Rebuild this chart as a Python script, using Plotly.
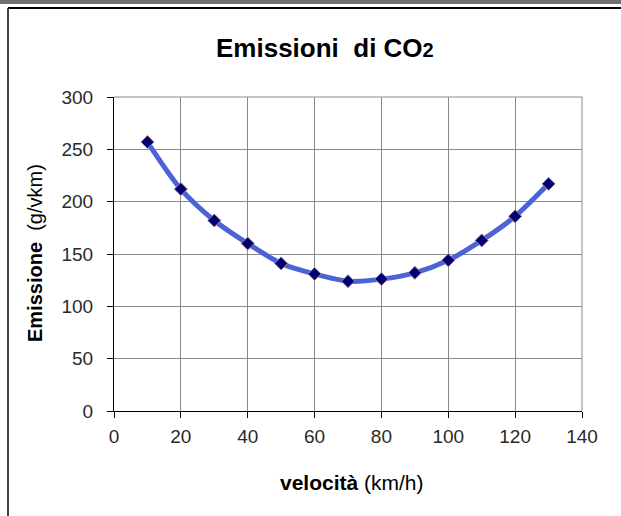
import plotly.graph_objects as go

speed = [10, 20, 30, 40, 50, 60, 70, 80, 90, 100, 110, 120, 130]
emission = [257, 212, 182, 160, 141, 131, 124, 126, 132, 144, 163, 186, 217]
x_ticks = [0, 20, 40, 60, 80, 100, 120, 140]
y_ticks = [0, 50, 100, 150, 200, 250, 300]

FONT = "Liberation Sans, Arial, sans-serif"
L, R, T, B = 114, 39, 97, 105
W, H = 621, 516
pw, ph = W - L - R, H - T - B

def px(x):
    return (x - L) / pw

def py(y):
    return (H - B - y) / ph

fig = go.Figure()
fig.add_trace(go.Scatter(
    x=speed, y=emission, mode="lines+markers",
    line=dict(shape="spline", color="#4a63d6", width=5, smoothing=0.8),
    marker=dict(symbol="diamond", size=10, color="#000070",
                line=dict(color="#a07898", width=1)),
    showlegend=False, hoverinfo="x+y",
))

axis_common = dict(
    showline=True, linecolor="black", linewidth=1,
    ticks="outside", ticklen=6, tickcolor="black", tickwidth=1,
    showgrid=True, gridcolor="#8a8a8a", gridwidth=1,
    zeroline=False,
    tickfont=dict(family=FONT, size=19, color="#2a2a2a"),
)
fig.update_xaxes(range=[0, 140], tickvals=x_ticks, ticktext=[str(v) for v in x_ticks],
                 ticklabelstandoff=2, **axis_common)
fig.update_yaxes(range=[0, 300], tickvals=y_ticks, ticktext=[str(v) for v in y_ticks],
                 ticklabelstandoff=10, **axis_common)

shapes = [
    # top gray bar
    dict(type="rect", xref="paper", yref="paper", x0=px(0), x1=px(W), y0=py(0), y1=py(4),
         fillcolor="#707070", line=dict(width=0), layer="above"),
    # frame top line
    dict(type="line", xref="paper", yref="paper", x0=px(8), x1=px(W), y0=py(8), y1=py(8),
         line=dict(color="black", width=2)),
    # frame left line
    dict(type="line", xref="paper", yref="paper", x0=px(8), x1=px(8), y0=py(8), y1=py(H),
         line=dict(color="black", width=1.5)),
    # plot area top/right edges
    dict(type="line", xref="paper", yref="paper", x0=0, x1=1, y0=1, y1=1,
         line=dict(color="#8a8a8a", width=1)),
    dict(type="line", xref="paper", yref="paper", x0=1, x1=1, y0=0, y1=1,
         line=dict(color="#8a8a8a", width=1)),
]

annotations = [
    dict(text="<b>Emissioni  di CO<span style='font-size:20px'>2</span></b>",
         x=px(325), y=py(48), xref="paper", yref="paper", showarrow=False,
         font=dict(family=FONT, size=26, color="black"), xanchor="center", yanchor="middle"),
    dict(text="<b>velocità</b> (km/h)",
         x=px(352), y=py(482), xref="paper", yref="paper", showarrow=False,
         font=dict(family=FONT, size=21, color="black"), xanchor="center", yanchor="middle"),
    dict(text="<b>Emissione</b>  (g/vkm)",
         x=px(35), y=py(253), xref="paper", yref="paper", showarrow=False, textangle=-90,
         font=dict(family=FONT, size=20, color="black"), xanchor="center", yanchor="middle"),
]

fig.update_layout(
    width=W, height=H, autosize=False,
    margin=dict(l=L, r=R, t=T, b=B, pad=0),
    paper_bgcolor="white", plot_bgcolor="white",
    shapes=shapes, annotations=annotations,
    font=dict(family=FONT),
)

fig.write_html("out.html", config={"displayModeBar": False},
               post_script="document.body.style.margin='0px';")
